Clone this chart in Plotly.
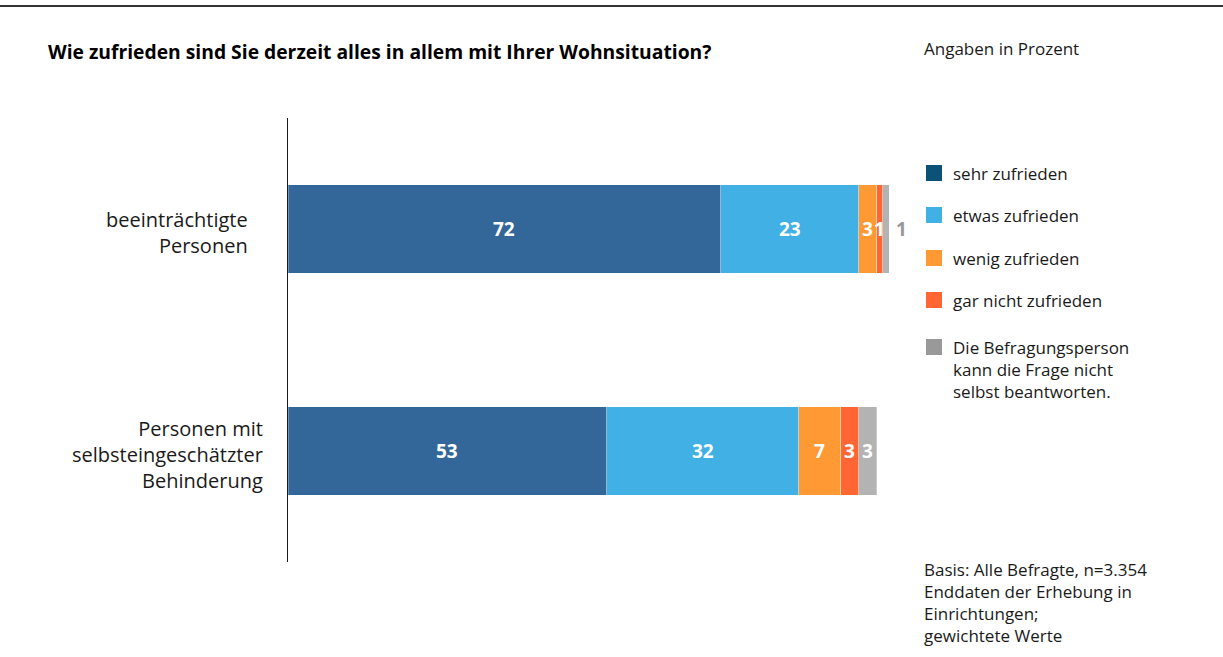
import plotly.graph_objects as go

categories = ["beeinträchtigte Personen", "Personen mit selbsteingeschätzter Behinderung"]
cat_labels = ["beeinträchtigte<br>Personen", "Personen mit<br>selbsteingeschätzter<br>Behinderung"]
series_names = ["sehr zufrieden", "etwas zufrieden", "wenig zufrieden", "gar nicht zufrieden",
                "Die Befragungsperson<br>kann die Frage nicht<br>selbst beantworten."]
sehr = [72, 53]
etwas = [23, 32]
wenig = [3, 7]
gar_nicht = [1, 3]
keine_antwort = [1, 3]

values = [sehr, etwas, wenig, gar_nicht, keine_antwort]
bar_colors = ["#336699", "#41b0e4", "#ff9933", "#ff6633", "#b3b3b3"]
legend_colors = ["#0b5276", "#41b0e4", "#ff9933", "#ff6633", "#999999"]

FONT = "Open Sans"
W, H = 1223, 657
PL, PR, PT, PB = 288, 889, 118, 562  # plot area in pixels


def px(x):
    return (x - PL) / (PR - PL)


def py(y):
    return (PB - y) / (PB - PT)


fig = go.Figure()
for name, vals, col in zip(series_names, values, bar_colors):
    fig.add_trace(go.Bar(
        y=categories, x=vals, orientation="h", name=name,
        marker=dict(color=col, line=dict(color="rgba(255,255,255,0.6)", width=0.5)),
        width=0.4, showlegend=False, hoverinfo="x+name",
    ))

annotations = []
# value labels
for ci, cat in enumerate(categories):
    cum = 0
    for si, vals in enumerate(values):
        v = vals[ci]
        mid = cum + v / 2
        cum += v
        if si == len(values) - 1 and v < 2:
            annotations.append(dict(x=cum, y=cat, xref="x", yref="y", text=f"<b>{v}</b>",
                                    showarrow=False, xanchor="left", xshift=5,
                                    font=dict(family=FONT, size=19, color="#999999")))
        else:
            annotations.append(dict(x=mid, y=cat, xref="x", yref="y", text=f"<b>{v}</b>",
                                    showarrow=False, xanchor="center",
                                    font=dict(family=FONT, size=19, color="white")))

# category labels
label_right = [250, 265]
for cat, lab, xr in zip(categories, cat_labels, label_right):
    annotations.append(dict(x=px(xr), y=cat, xref="paper", yref="y", text=lab,
                            showarrow=False, xanchor="right", align="right", yshift=-3,
                            font=dict(family=FONT, size=20, color="#1a1a1a")))

# title & notes
annotations.append(dict(x=px(46), y=py(51), xref="paper", yref="paper",
                        text="<b>Wie zufrieden sind Sie derzeit alles in allem mit Ihrer Wohnsituation?</b>",
                        showarrow=False, xanchor="left", yanchor="middle",
                        font=dict(family=FONT, size=19.3, color="#000000")))
annotations.append(dict(x=px(922), y=py(48), xref="paper", yref="paper",
                        text="Angaben in Prozent", showarrow=False, xanchor="left", yanchor="middle",
                        font=dict(family=FONT, size=17, color="#1a1a1a")))
annotations.append(dict(x=px(922), y=py(556), xref="paper", yref="paper",
                        text="Basis: Alle Befragte, n=3.354<br>Enddaten der Erhebung in<br>Einrichtungen;<br>gewichtete Werte",
                        showarrow=False, xanchor="left", yanchor="top", align="left",
                        font=dict(family=FONT, size=17, color="#1a1a1a")))

shapes = [dict(type="line", xref="paper", yref="paper", x0=px(0), x1=px(W), y0=py(6), y1=py(6),
               line=dict(color="#333333", width=2))]

# legend
legend_y = [173, 215, 258, 300, 347]
for name, col, ly in zip(series_names, legend_colors, legend_y):
    shapes.append(dict(type="rect", xref="paper", yref="paper",
                       x0=px(926), x1=px(942), y0=py(ly + 8), y1=py(ly - 8),
                       fillcolor=col, line=dict(width=0)))
    annotations.append(dict(x=px(951), y=py(ly - 13), xref="paper", yref="paper",
                            text=name, showarrow=False, xanchor="left", yanchor="top", align="left",
                            font=dict(family=FONT, size=17, color="#1a1a1a")))

fig.update_layout(
    barmode="stack",
    width=W, height=H,
    margin=dict(l=PL, r=W - PR, t=PT, b=H - PB, pad=0),
    paper_bgcolor="white", plot_bgcolor="white",
    xaxis=dict(range=[0, 100], showgrid=False, zeroline=False, showticklabels=False,
               showline=False, ticks=""),
    yaxis=dict(range=[1.5, -0.5], showgrid=False, zeroline=False, showticklabels=False,
               showline=True, linecolor="#1a1a1a", linewidth=1, ticks=""),
    annotations=annotations, shapes=shapes,
    font=dict(family=FONT),
)
fig.write_html("out.html")
